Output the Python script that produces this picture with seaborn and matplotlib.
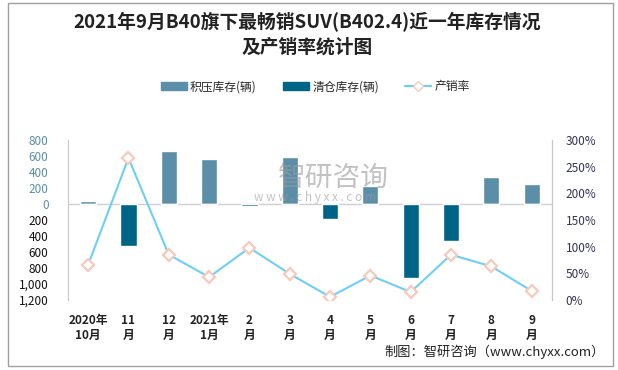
import seaborn as sns
import pandas as pd
import matplotlib.pyplot as plt
import numpy as np
from matplotlib.lines import Line2D
from matplotlib.patches import Patch, Rectangle

sns.set_style('white')
plt.rcParams['font.family'] = ['Noto Sans CJK SC', 'DejaVu Sans']

# data
months = ['2020年\n10月', '11\n月', '12\n月', '2021年\n1月', '2\n月', '3\n月',
          '4\n月', '5\n月', '6\n月', '7\n月', '8\n月', '9\n月']
backlog = [35, 0, 660, 560, 0, 585, 0, 220, 0, 0, 335, 245]          # 积压库存(辆)
clearance = [0, -530, 0, 0, -25, 0, -190, 0, -930, -465, 0, 0]       # 清仓库存(辆)
sell_rate = [66, 266, 85, 43, 98, 49, 6, 46, 15, 85, 63, 17]          # 产销率 %

c_back = '#5b8fa8'
c_clear = '#006487'
c_line = '#6ecff6'
c_mark = '#f8c9bc'

df = pd.DataFrame(dict(month=months, backlog=backlog, clearance=clearance,
                       rate=np.array(sell_rate) / 100))

fig = plt.figure(figsize=(6.18, 3.70), dpi=100)
ax = fig.add_axes([0.110, 0.189, 0.783, 0.433])

sns.barplot(data=df, x='month', y='backlog', color=c_back, width=0.4,
            saturation=1, ax=ax)
sns.barplot(data=df, x='month', y='clearance', color=c_clear, width=0.4,
            saturation=1, ax=ax)
ax.axhline(0, color='#d0d0d0', lw=1, zorder=0.5)
ax.set_ylim(-1200, 800)
ax.set_xlim(-0.5, len(months) - 0.5)
ticks = np.arange(-1200, 801, 200)
ax.set_yticks(ticks)
ax.set_yticklabels([f'{abs(t):,}' for t in ticks])
for t, lab in zip(ticks, ax.get_yticklabels()):
    lab.set_color(c_back if t >= 0 else '#111111')
    lab.set_fontsize(8.5)
ax.set_xlabel('')
ax.set_ylabel('')
ax.tick_params(axis='x', labelsize=8.5, length=0, pad=10)
ax.tick_params(axis='y', length=0, pad=14)
for lab in ax.get_xticklabels():
    lab.set_fontweight('bold')
    lab.set_color('#222222')
for s in ['top', 'bottom']:
    ax.spines[s].set_visible(False)
for s in ['left', 'right']:
    ax.spines[s].set_color('#c8c8c8')

ax2 = ax.twinx()
sns.lineplot(x=np.arange(len(months)), y=df['rate'], ax=ax2, color=c_line, lw=1.5,
             marker='D', markersize=6, markerfacecolor='white',
             markeredgecolor=c_mark, markeredgewidth=1.6)
ax2.set_ylim(0, 3)
ax2.set_yticks(np.arange(0, 3.01, 0.5))
ax2.set_yticklabels([f'{int(round(v * 100))}%' for v in np.arange(0, 3.01, 0.5)])
ax2.tick_params(axis='y', length=0, pad=10, labelsize=8.5, labelcolor='#333355')
ax2.set_ylabel('')
for s in ax2.spines.values():
    s.set_visible(False)
ax2.spines['right'].set_visible(True)
ax2.spines['right'].set_color('#c8c8c8')

# watermark
fig.text(0.54, 0.52, '智研咨询', fontsize=20, color='#9a9a9a', alpha=0.6,
         ha='center', va='center')
fig.text(0.51, 0.465, 'w w w . c h y x x . c o m', fontsize=8.5, color='#9a9a9a',
         alpha=0.6, ha='center', va='center')

fig.text(0.497, 0.94, '2021年9月B40旗下最畅销SUV(B402.4)近一年库存情况',
         fontsize=13.5, fontweight='bold', color='#222222', ha='center', va='center')
fig.text(0.497, 0.872, '及产销率统计图', fontsize=13.5, fontweight='bold',
         color='#222222', ha='center', va='center')

handles = [Patch(color=c_back, label='积压库存(辆)'),
           Patch(color=c_clear, label='清仓库存(辆)'),
           Line2D([], [], color=c_line, lw=1.6, marker='D', markersize=5,
                  markerfacecolor='white', markeredgecolor=c_mark, label='产销率')]
fig.legend(handles=handles, loc='center', bbox_to_anchor=(0.51, 0.765), ncol=3,
           frameon=False, fontsize=8.5, handlelength=2.2, handleheight=0.7,
           columnspacing=2.2, handletextpad=0.3)

fig.text(0.978, 0.048, '制图：智研咨询（www.chyxx.com）', fontsize=9.5,
         color='#222222', ha='right', va='center')

fig.patches.append(Rectangle((0.013, 0.01), 0.979, 0.982, transform=fig.transFigure,
                             fill=False, edgecolor='#a0a0a0', lw=1))

fig.savefig('out.png', dpi=100)
